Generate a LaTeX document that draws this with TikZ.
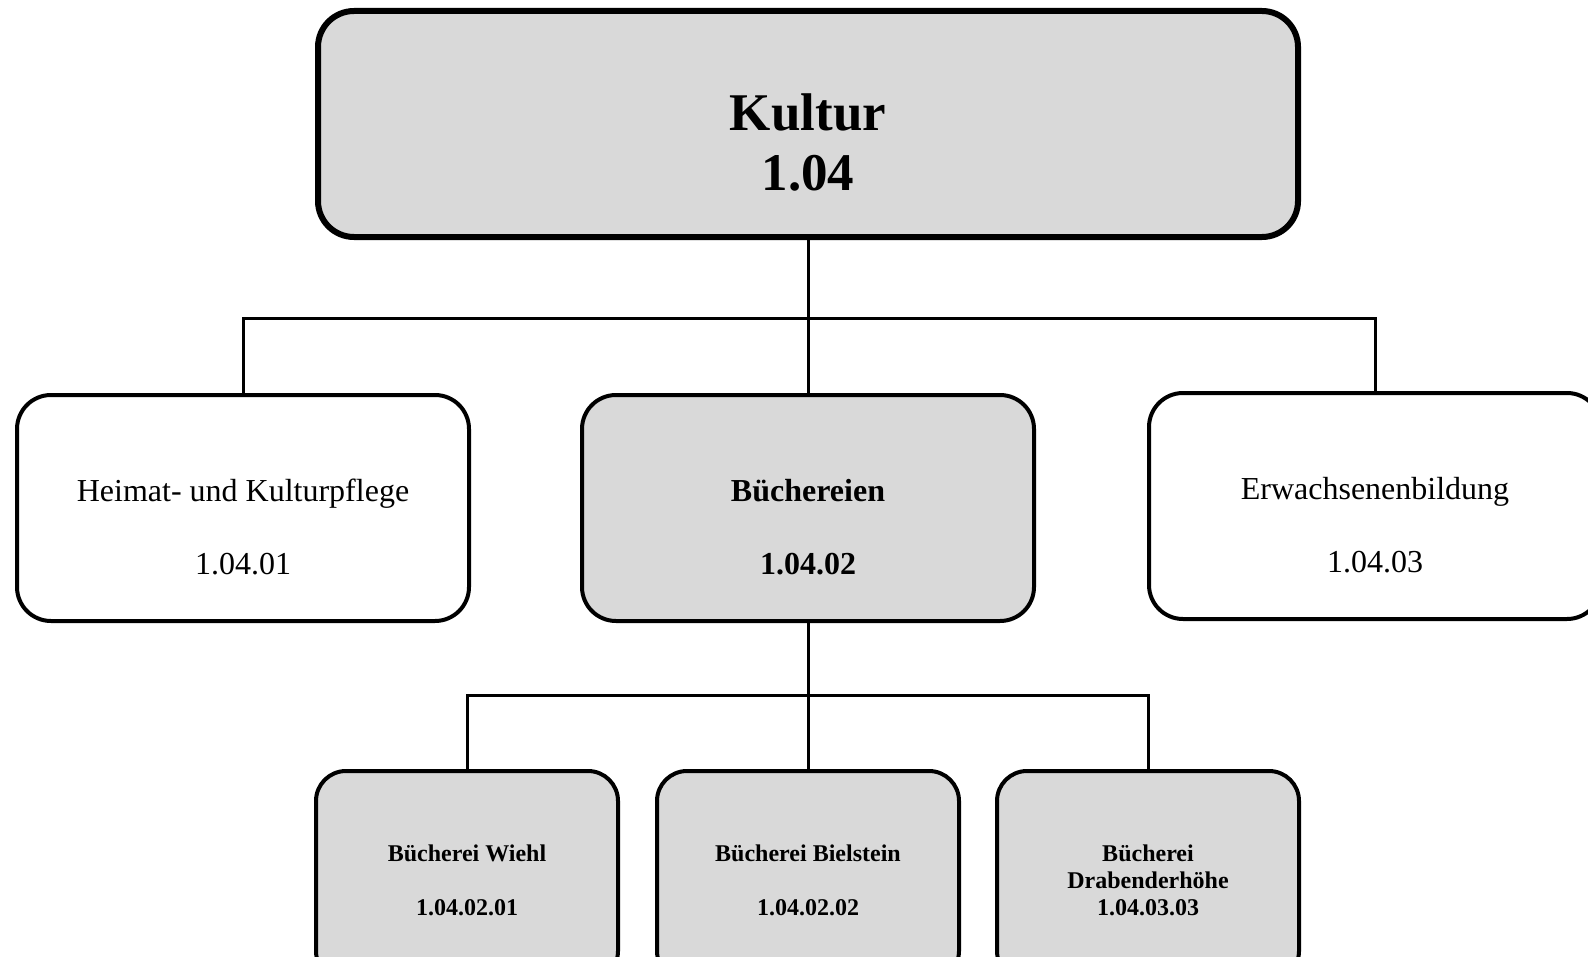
\documentclass[tikz,border=0pt]{standalone}
\usepackage{fontspec}
\setmainfont{Liberation Serif}
\usetikzlibrary{positioning, calc}
\definecolor{BoxGrey}{HTML}{D9D9D9}

\tikzset{
  topbox/.style={draw, fill=BoxGrey, line width=3pt, rounded corners=18pt, minimum width=490pt, minimum height=113pt},
  unitbox/.style={draw, line width=2pt, rounded corners=17pt, minimum width=226pt, minimum height=113pt},
  subbox/.style={draw, fill=BoxGrey, line width=2pt, rounded corners=15pt, minimum width=151pt, minimum height=105pt},
  conn/.style={line width=1.5pt},
  toptext/.style={align=center, font=\bfseries\fontsize{26.5}{30}\selectfont},
  midtext/.style={align=center, font=\fontsize{16}{36.5}\selectfont},
  subtext/.style={align=center, font=\bfseries\fontsize{12}{27}\selectfont}
}

\begin{document}
\begin{tikzpicture}[x=0.5pt, y=-0.5pt]
    \useasboundingbox (0,0) rectangle (1588,957);
    \clip (0,0) rectangle (1588,957);

    % Kultur
    \node [topbox] (kultur) at (808,124) {};
    \node [toptext] (kulturtext) at ([yshift=-9pt]kultur.center) {Kultur\\1.04};

    % Produktgruppen
    \node [unitbox] (heimat) at (243,508) {};
    \node [unitbox, fill=BoxGrey] (buecher) at (808,508) {};
    \node [unitbox] (erwachsen) at (1375,506) {};
    \node [midtext] (heimattext) at ([yshift=-9.5pt]heimat.center) {Heimat- und Kulturpflege\\1.04.01};
    \node [midtext, font=\bfseries\fontsize{16}{36.5}\selectfont] (buechertext) at ([yshift=-9.5pt]buecher.center) {Büchereien\\1.04.02};
    \node [midtext] (erwachsentext) at ([yshift=-9.5pt]erwachsen.center) {Erwachsenenbildung\\1.04.03};

    % Büchereien vor Ort
    \node [subbox] (wiehl) at (467,876) {};
    \node [subbox] (bielstein) at (808,876) {};
    \node [subbox] (draben) at (1148,876) {};
    \node [subtext] (wiehltext) at ([yshift=-2pt]wiehl.center) {Bücherei Wiehl\\1.04.02.01};
    \node [subtext] (bielsteintext) at ([yshift=-2pt]bielstein.center) {Bücherei Bielstein\\1.04.02.02};
    \node [subtext, font=\bfseries\fontsize{12}{13.5}\selectfont] (drabentext) at ([yshift=-2pt]draben.center) {Bücherei\\Drabenderhöhe\\1.04.03.03};

    % Verbindungen
    \coordinate (topbar) at (0,318);
    \coordinate (subbar) at (0,695);
    \draw [conn] (kultur.south) -- (buecher.north);
    \draw [conn] (heimat.north) -- (heimat.north |- topbar) -- (erwachsen.north |- topbar) -- (erwachsen.north);
    \draw [conn] (buecher.south) -- (bielstein.north);
    \draw [conn] (wiehl.north) -- (wiehl.north |- subbar) -- (draben.north |- subbar) -- (draben.north);
\end{tikzpicture}
\end{document}
